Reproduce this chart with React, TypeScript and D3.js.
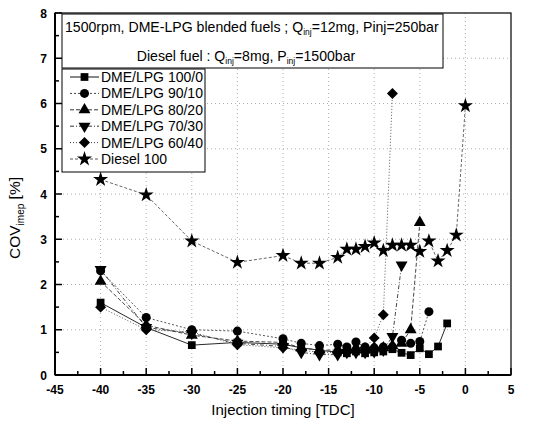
import React from "react";
import * as d3 from "d3";

const xDME = [-40, -35, -30, -25, -20, -18, -16, -14, -13, -12, -11, -10, -9, -8, -7, -6, -5, -4, -3, -2];
const xDiesel = [-40, -35, -30, -25, -20, -18, -16, -14, -13, -12, -11, -10, -9, -8, -7, -6, -5, -4, -3, -2, -1, 0];

const dme100 = [1.6, 1.05, 0.66, 0.72, 0.68, 0.6, 0.55, 0.5, 0.48, 0.52, 0.48, 0.5, 0.52, 0.57, 0.49, 0.44, 0.59, 0.46, 0.63, 1.14];
const dme90 = [2.3, 1.27, 1.0, 0.97, 0.8, 0.7, 0.65, 0.68, 0.62, 0.73, 0.62, 0.6, 0.62, 0.62, 0.77, 0.7, 0.74, 1.4];
const dme80 = [2.07, 1.1, 0.88, 0.75, 0.72, 0.6, 0.55, 0.55, 0.55, 0.6, 0.55, 0.6, 0.6, 0.65, 0.7, 1.0, 3.37];
const dme70 = [2.33, 1.05, 0.92, 0.7, 0.63, 0.5, 0.45, 0.45, 0.5, 0.5, 0.5, 0.52, 0.55, 0.85, 2.43];
const dme60 = [1.5, 1.0, 0.95, 0.67, 0.6, 0.55, 0.5, 0.5, 0.5, 0.55, 0.6, 0.82, 1.33, 6.22];
const diesel = [4.32, 3.98, 2.96, 2.49, 2.64, 2.47, 2.47, 2.6, 2.78, 2.78, 2.84, 2.92, 2.75, 2.87, 2.87, 2.87, 2.73, 2.96, 2.52, 2.75, 3.09, 5.95];

const seriesNames = ["DME/LPG 100/0", "DME/LPG 90/10", "DME/LPG 80/20", "DME/LPG 70/30", "DME/LPG 60/40", "Diesel 100"];
const xTicks = [-45, -40, -35, -30, -25, -20, -15, -10, -5, 0, 5];
const yTicks = [0, 1, 2, 3, 4, 5, 6, 7, 8];

const W = 554, H = 428;
const L = 55, R = 511, T = 13, B = 375;
const FONT = "'Liberation Sans', Arial, sans-serif";

const x = d3.scaleLinear().domain([-45, 5]).range([L, R]);
const y = d3.scaleLinear().domain([0, 8]).range([B, T]);

const downTri = {
  draw(ctx: any, size: number) {
    const s = Math.sqrt(size / (Math.sqrt(3) / 4));
    const h = (s * Math.sqrt(3)) / 2;
    ctx.moveTo(-s / 2, -h / 3);
    ctx.lineTo(s / 2, -h / 3);
    ctx.lineTo(0, (2 * h) / 3);
    ctx.closePath();
  },
};
const upTri = {
  draw(ctx: any, size: number) {
    const s = Math.sqrt(size / (Math.sqrt(3) / 4));
    const h = (s * Math.sqrt(3)) / 2;
    ctx.moveTo(-s / 2, h / 3);
    ctx.lineTo(s / 2, h / 3);
    ctx.lineTo(0, (-2 * h) / 3);
    ctx.closePath();
  },
};
const diamondSq = {
  draw(ctx: any, size: number) {
    const r = Math.sqrt(size / 2);
    ctx.moveTo(0, -r);
    ctx.lineTo(r, 0);
    ctx.lineTo(0, r);
    ctx.lineTo(-r, 0);
    ctx.closePath();
  },
};

const series = [
  { name: seriesNames[0], xs: xDME, ys: dme100, sym: d3.symbolSquare, size: 60, dash: "", color: "#111" },
  { name: seriesNames[1], xs: xDME, ys: dme90, sym: d3.symbolCircle, size: 64, dash: "2 2", color: "#444" },
  { name: seriesNames[2], xs: xDME, ys: dme80, sym: upTri, size: 62, dash: "4 2", color: "#333" },
  { name: seriesNames[3], xs: xDME, ys: dme70, sym: downTri, size: 62, dash: "4 2 1 2", color: "#333" },
  { name: seriesNames[4], xs: xDME, ys: dme60, sym: diamondSq, size: 60, dash: "1 2", color: "#444" },
  { name: seriesNames[5], xs: xDiesel, ys: diesel, sym: d3.symbolStar, size: 70, dash: "3 2", color: "#555" },
];

export default function App() {
  const line = d3.line<[number, number]>().x((d) => x(d[0])).y((d) => y(d[1]));
  const xMinor = d3.range(-42.5, 5, 5);
  const yMinor = d3.range(0.5, 8, 1);
  return (
    <svg width={W} height={H} style={{ position: "absolute", left: 0, top: 0, background: "#fff" }} fontFamily={FONT}>
      <rect x={0} y={0} width={W} height={H} fill="#fff" />
      {xTicks.slice(1, -1).map((t) => (
        <line key={"gx" + t} x1={x(t)} x2={x(t)} y1={T} y2={B} stroke="#9a9a9a" strokeWidth={0.8} strokeDasharray="1 3" />
      ))}
      {yTicks.slice(1, -1).map((t) => (
        <line key={"gy" + t} x1={L} x2={R} y1={y(t)} y2={y(t)} stroke="#9a9a9a" strokeWidth={0.8} strokeDasharray="1 3" />
      ))}
      {series.map((s) => (
        <path
          key={"l" + s.name}
          d={line(s.ys.map((v, i) => [s.xs[i], v]) as [number, number][]) || ""}
          fill="none"
          stroke={s.color}
          strokeWidth={0.9}
          strokeDasharray={s.dash}
        />
      ))}
      {series.map((s) =>
        s.ys.map((v, i) => (
          <path
            key={"m" + s.name + i}
            d={d3.symbol(s.sym as any, s.size)() || ""}
            transform={`translate(${x(s.xs[i])},${y(v)})`}
            fill="#000"
          />
        ))
      )}
      <rect x={L} y={T} width={R - L} height={B - T} fill="none" stroke="#000" strokeWidth={1.2} />
      <line x1={L} x2={R} y1={B} y2={B} stroke="#000" strokeWidth={2} />
      <line x1={L} x2={L} y1={T} y2={B} stroke="#000" strokeWidth={2} />
      {xTicks.map((t) => (
        <g key={"xt" + t}>
          <line x1={x(t)} x2={x(t)} y1={B} y2={B - 7} stroke="#000" strokeWidth={1.5} />
          <text x={x(t)} y={B + 19} textAnchor="middle" fontSize={12} fontWeight="bold">{t}</text>
        </g>
      ))}
      {xMinor.map((t) => (
        <line key={"xm" + t} x1={x(t)} x2={x(t)} y1={B} y2={B - 4} stroke="#000" strokeWidth={1.5} />
      ))}
      {yTicks.map((t) => (
        <g key={"yt" + t}>
          <line x1={L} x2={L + 7} y1={y(t)} y2={y(t)} stroke="#000" strokeWidth={1.5} />
          <text x={L - 8} y={y(t) + 4.5} textAnchor="end" fontSize={12} fontWeight="bold">{t}</text>
        </g>
      ))}
      {yMinor.map((t) => (
        <line key={"ym" + t} x1={L} x2={L + 4} y1={y(t)} y2={y(t)} stroke="#000" strokeWidth={1.5} />
      ))}
      <text x={(L + R) / 2} y={415} textAnchor="middle" fontSize={15}>Injection timing [TDC]</text>
      <text transform={`translate(20,218) rotate(-90)`} textAnchor="middle" fontSize={15.5}>
        COV<tspan fontSize={10} dy={4}>imep</tspan>
        <tspan dy={-4}> [%]</tspan>
      </text>
      <rect x={62} y={14} width={381} height={54} fill="#fff" stroke="#000" strokeWidth={1} />
      <text x={65} y={32} fontSize={14.1}>
        1500rpm, DME-LPG blended fuels ; Q<tspan fontSize={8.5} dy={3}>inj</tspan>
        <tspan dy={-3}>=12mg, Pinj=250bar</tspan>
      </text>
      <text x={246} y={61} fontSize={14.1} textAnchor="middle">
        Diesel fuel : Q<tspan fontSize={8.5} dy={3}>inj</tspan>
        <tspan dy={-3}>=8mg, P</tspan>
        <tspan fontSize={8.5} dy={3}>inj</tspan>
        <tspan dy={-3}>=1500bar</tspan>
      </text>
      <rect x={62} y={69} width={143} height={103} fill="#fff" stroke="#000" strokeWidth={1} />
      {series.map((s, i) => {
        const ly = 77 + i * 16.4;
        return (
          <g key={"lg" + s.name}>
            <line x1={70} x2={99} y1={ly} y2={ly} stroke={s.color} strokeWidth={1} strokeDasharray={s.dash} />
            <path d={d3.symbol(s.sym as any, s.size)() || ""} transform={`translate(84.5,${ly})`} fill="#000" />
            <text x={101} y={ly + 5} fontSize={14}>{s.name}</text>
          </g>
        );
      })}
    </svg>
  );
}
